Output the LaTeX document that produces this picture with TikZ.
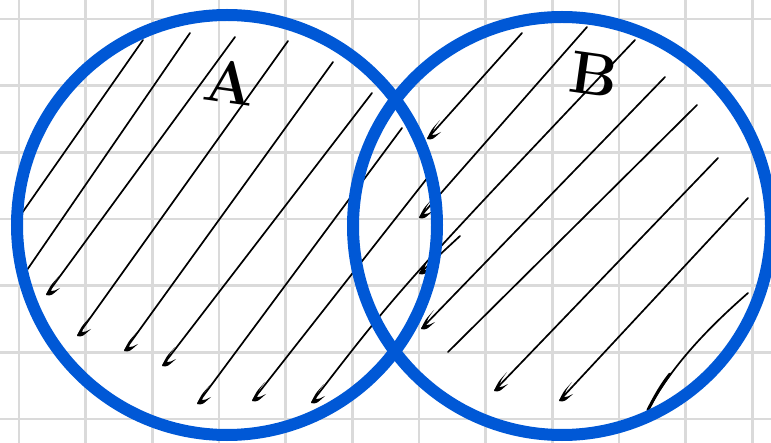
\documentclass[tikz,border=0pt]{standalone}
\begin{document}
\begin{tikzpicture}[x=1pt,y=-1pt,
  gridline/.style={draw=gridgray,line width=2.6pt},
  ring/.style={draw=ringblue,line width=12pt},
  hatch/.style={draw=black,line width=1.7pt,line cap=round},
  letter/.style={font=\fontsize{60}{62}\selectfont\bfseries,inner sep=0pt}]
\definecolor{gridgray}{RGB}{218,218,218}
\definecolor{ringblue}{RGB}{0,88,214}
\useasboundingbox (0,0) rectangle (771,443);
\clip (0,0) rectangle (771,443);
% grid
\foreach \k in {0,...,11} {
  \draw[gridline] ({19+66.67*\k},0) -- ({19+66.67*\k},443);
}
\foreach \k in {0,...,6} {
  \draw[gridline] (0,{19+66.67*\k}) -- (771,{19+66.67*\k});
}
% hook macro: tapered curl at the lower end of a stroke
\newcommand{\hk}[2]{\fill[black] (#1+12,#2-18) .. controls (#1+3,#2-8) .. (#1-1,#2+1)
  .. controls (#1+4,#2+2) .. (#1+13,#2-6) .. controls (#1+7,#2-3) .. (#1+4,#2-3)
  .. controls (#1+6,#2-10) .. (#1+12,#2-18) -- cycle;}
% A strokes
\draw[hatch] (22,213) -- (143,40);
\draw[hatch] (27,270) -- (190,33);
\draw[hatch] (47,294) -- (235,37); \hk{47}{294}
\draw[hatch] (78,335) -- (288,41); \hk{78}{335}
\draw[hatch] (125,350) -- (333,62); \hk{125}{350}
\draw[hatch] (163,365) -- (372,93); \hk{163}{365}
\draw[hatch] (198,403) -- (402,128); \hk{198}{403}
\draw[hatch] (253,400) -- (432,172); \hk{253}{400}
\draw[hatch] (312,402) .. controls (400,288) .. (635,40); \hk{312}{402}
% B strokes
\draw[hatch] (428,138) -- (522,33); \hk{428}{138}
\draw[hatch] (420,217) -- (587,27); \hk{420}{217}
\draw[hatch] (420,273) -- (460,236); \hk{420}{273}
\draw[hatch] (422,328) -- (665,77); \hk{422}{328}
\draw[hatch] (448,352) -- (697,105);
\draw[hatch] (495,390) -- (718,158); \hk{495}{390}
\draw[hatch] (560,400) -- (748,198); \hk{560}{400}
\draw[hatch] (647,412) .. controls (668,372) and (700,335) .. (748,293);
\draw[line width=3pt,line cap=round] (648,410) .. controls (655,396) and (662,384) .. (670,374);
% circles
\node[circle,minimum size=420pt,ring] (A) at (227,225) {};
\node[circle,minimum size=418pt,ring] (B) at (562,226) {};
% labels
\node[letter,rotate=-8] (la) at (230,82) {A};
\node[letter,rotate=-8] (lb) at (594,74) {B};
\end{tikzpicture}
\end{document}
